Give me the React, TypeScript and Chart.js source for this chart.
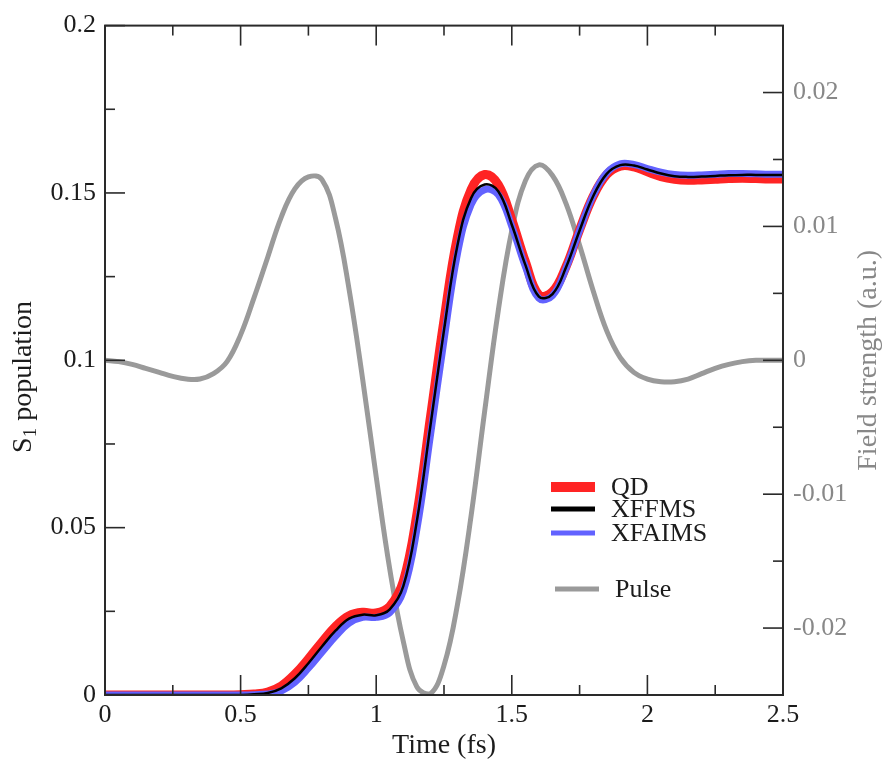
import React, { useEffect, useRef } from 'react';
import { Chart, registerables } from 'chart.js';

Chart.register(...registerables);

// ---- Data ----
const TIME = [0, 0.05, 0.1, 0.15, 0.2, 0.25, 0.3, 0.35, 0.4, 0.45, 0.5, 0.55, 0.6, 0.65, 0.7, 0.75, 0.8, 0.85, 0.9, 0.95, 1, 1.05, 1.1, 1.15, 1.2, 1.25, 1.3, 1.35, 1.4, 1.45, 1.5, 1.55, 1.6, 1.65, 1.7, 1.75, 1.8, 1.85, 1.9, 1.95, 2, 2.05, 2.1, 2.15, 2.2, 2.25, 2.3, 2.35, 2.4, 2.45, 2.5];

const QD = [0, 0, 0, 0, 0, 0, 0, 0, 0, 0, 0.0001, 0.0003, 0.0009, 0.0027, 0.0062, 0.0108, 0.0158, 0.0205, 0.0237, 0.0247, 0.0245, 0.0265, 0.034, 0.054, 0.083, 0.112, 0.137, 0.151, 0.1555, 0.1525, 0.142, 0.1295, 0.1195, 0.1205, 0.128, 0.139, 0.149, 0.1555, 0.158, 0.1578, 0.1563, 0.1549, 0.1541, 0.1538, 0.1539, 0.1541, 0.1543, 0.1544, 0.1543, 0.1542, 0.1542];

const XFFMS = [0, 0, 0, 0, 0, 0, 0, 0, 0, 0, 0, 0.0002, 0.0006, 0.002, 0.005, 0.0095, 0.0145, 0.0192, 0.0228, 0.024, 0.0238, 0.0256, 0.0325, 0.052, 0.0805, 0.109, 0.1345, 0.1485, 0.1525, 0.1505, 0.1405, 0.1285, 0.119, 0.1198, 0.1278, 0.1388, 0.149, 0.1557, 0.1583, 0.1582, 0.157, 0.1558, 0.155, 0.1548, 0.1549, 0.1551, 0.1553, 0.1554, 0.1554, 0.1554, 0.1554];

const XFAIMS = [0, 0, 0, 0, 0, 0, 0, 0, 0, 0, 0, 0.0001, 0.0003, 0.0012, 0.0038, 0.008, 0.0128, 0.0175, 0.0215, 0.0232, 0.0232, 0.0246, 0.031, 0.0495, 0.0775, 0.106, 0.132, 0.1465, 0.151, 0.1495, 0.14, 0.128, 0.1185, 0.1193, 0.1275, 0.1388, 0.1492, 0.156, 0.1587, 0.1585, 0.1573, 0.1562, 0.1555, 0.1553, 0.1554, 0.1556, 0.1558, 0.1558, 0.1557, 0.1556, 0.1556];

const PULSE = [0, -0.0001, -0.0003, -0.0006, -0.0009, -0.0012, -0.0014, -0.0014, -0.001, -0.0001, 0.0019, 0.0047, 0.0077, 0.0107, 0.0128, 0.0137, 0.0135, 0.0106, 0.0053, -0.0014, -0.0087, -0.0156, -0.021, -0.0244, -0.0249, -0.0228, -0.0182, -0.0116, -0.0038, 0.0037, 0.0097, 0.0134, 0.0146, 0.0138, 0.0117, 0.0086, 0.0052, 0.0022, 0.0002, -0.0009, -0.0014, -0.0016, -0.0016, -0.0014, -0.001, -0.0006, -0.0003, -0.0001, 0, 0, 0];

const X_TICKS = [0, 0.5, 1, 1.5, 2, 2.5];
const X_LABELS = ['0', '0.5', '1', '1.5', '2', '2.5'];
const X_MINOR = [0.25, 0.75, 1.25, 1.75, 2.25];
const Y_TICKS = [0, 0.05, 0.1, 0.15, 0.2];
const Y_LABELS = ['0', '0.05', '0.1', '0.15', '0.2'];
const Y_MINOR = [0.025, 0.075, 0.125, 0.175];
const Y2_TICKS = [-0.02, -0.01, 0, 0.01, 0.02];
const Y2_LABELS = ['-0.02', '-0.01', '0', '0.01', '0.02'];
const Y2_MINOR = [-0.015, -0.005, 0.005, 0.015];

const SERIES_NAMES = ['QD', 'XFFMS', 'XFAIMS', 'Pulse'];

const FONT = 'Liberation Serif, Times New Roman, serif';
const RED = '#ff2424';
const BLUE = '#6262ff';
const BLACK = '#000000';
const GRAY = '#9a9a9a';
const TEXT = '#1c1c1c';
const GRAY_TEXT = '#888888';

const toPoints = (vals: number[]) => TIME.map((t, i) => ({ x: t, y: vals[i] }));

const decorPlugin = {
  id: 'decor',
  afterDraw(chart: any) {
    const { ctx, chartArea: a, scales } = chart;
    const xs = scales.x, ys = scales.y, y2s = scales.y2;
    ctx.save();
    // frame
    ctx.strokeStyle = '#2a2a2a';
    ctx.lineWidth = 2;
    ctx.strokeRect(a.left, a.top, a.right - a.left, a.bottom - a.top);

    const seg = (x1: number, y1: number, x2: number, y2: number) => {
      ctx.beginPath();
      ctx.moveTo(x1, y1);
      ctx.lineTo(x2, y2);
      ctx.stroke();
    };
    ctx.lineWidth = 1.6;
    X_TICKS.forEach((v) => {
      const px = xs.getPixelForValue(v);
      seg(px, a.bottom, px, a.bottom - 20);
      seg(px, a.top, px, a.top + 20);
    });
    X_MINOR.forEach((v) => {
      const px = xs.getPixelForValue(v);
      seg(px, a.bottom, px, a.bottom - 10);
      seg(px, a.top, px, a.top + 10);
    });
    Y_TICKS.forEach((v) => {
      const py = ys.getPixelForValue(v);
      seg(a.left, py, a.left + 20, py);
    });
    Y_MINOR.forEach((v) => {
      const py = ys.getPixelForValue(v);
      seg(a.left, py, a.left + 10, py);
    });
    Y2_TICKS.forEach((v) => {
      const py = y2s.getPixelForValue(v);
      seg(a.right, py, a.right - 20, py);
    });
    Y2_MINOR.forEach((v) => {
      const py = y2s.getPixelForValue(v);
      seg(a.right, py, a.right - 10, py);
    });

    // axis titles
    const big = `28px ${FONT}`;
    const small = `19px ${FONT}`;
    const midX = (a.left + a.right) / 2;
    ctx.fillStyle = TEXT;
    ctx.font = big;
    ctx.textAlign = 'center';
    ctx.textBaseline = 'alphabetic';
    ctx.fillText('Time (fs)', midX, 753);

    // left title with subscript
    ctx.save();
    ctx.translate(31, 377);
    ctx.rotate(-Math.PI / 2);
    ctx.textAlign = 'left';
    ctx.font = big;
    const wS = ctx.measureText('S').width;
    const wRest = ctx.measureText(' population').width;
    ctx.font = small;
    const w1 = ctx.measureText('1').width;
    const total = wS + w1 + wRest;
    let cx = -total / 2;
    ctx.font = big;
    ctx.fillText('S', cx, 0);
    cx += wS;
    ctx.font = small;
    ctx.fillText('1', cx, 5);
    cx += w1;
    ctx.font = big;
    ctx.fillText(' population', cx, 0);
    ctx.restore();

    // right title
    ctx.save();
    ctx.translate(876, (a.top + a.bottom) / 2);
    ctx.rotate(-Math.PI / 2);
    ctx.fillStyle = GRAY_TEXT;
    ctx.font = big;
    ctx.textAlign = 'center';
    ctx.fillText('Field strength (a.u.)', 0, 0);
    ctx.restore();

    // legend
    const legendFont = `26px ${FONT}`;
    const items = [
      { name: SERIES_NAMES[0], color: RED, w: 10, y: 487, x1: 551, x2: 595, tx: 611 },
      { name: SERIES_NAMES[1], color: BLACK, w: 5, y: 509, x1: 551, x2: 595, tx: 611 },
      { name: SERIES_NAMES[2], color: BLUE, w: 5, y: 533, x1: 551, x2: 595, tx: 611 },
      { name: SERIES_NAMES[3], color: GRAY, w: 5, y: 589, x1: 555, x2: 599, tx: 615 },
    ];
    ctx.textAlign = 'left';
    ctx.textBaseline = 'middle';
    ctx.font = legendFont;
    items.forEach((it) => {
      ctx.strokeStyle = it.color;
      ctx.lineWidth = it.w;
      ctx.lineCap = 'butt';
      seg(it.x1, it.y, it.x2, it.y);
      ctx.fillStyle = TEXT;
      ctx.fillText(it.name, it.tx, it.y + 1);
    });
    ctx.restore();
  },
};

export default function App() {
  const ref = useRef<HTMLCanvasElement | null>(null);

  useEffect(() => {
    if (!ref.current) return;
    const common = { pointRadius: 0, tension: 0.4, cubicInterpolationMode: 'default' };
    const chart = new Chart(ref.current, {
      type: 'line',
      data: {
        datasets: [
          {
            ...common,
            label: SERIES_NAMES[3],
            data: toPoints(PULSE),
            yAxisID: 'y2',
            borderColor: GRAY,
            borderWidth: 5,
            order: 3,
          },
          {
            ...common,
            label: SERIES_NAMES[0],
            data: toPoints(QD),
            yAxisID: 'y',
            borderColor: RED,
            borderWidth: 9,
            order: 2,
          },
          {
            ...common,
            label: SERIES_NAMES[2],
            data: toPoints(XFAIMS),
            yAxisID: 'y',
            borderColor: BLUE,
            borderWidth: 7,
            order: 1,
          },
          {
            ...common,
            label: SERIES_NAMES[1],
            data: toPoints(XFFMS),
            yAxisID: 'y',
            borderColor: BLACK,
            borderWidth: 2.5,
            order: 0,
          },
        ],
      },
      options: {
        responsive: false,
        animation: false,
        devicePixelRatio: 1,
        layout: { padding: { top: 17, left: 0, right: 0, bottom: 0 } },
        plugins: {
          legend: { display: false },
          tooltip: { enabled: false },
        },
        scales: {
          x: {
            type: 'linear',
            position: 'bottom',
            min: 0,
            max: 2.5,
            grid: { display: false, drawTicks: false },
            border: { display: false },
            afterBuildTicks: (s: any) => {
              s.ticks = X_TICKS.map((v) => ({ value: v }));
            },
            afterFit: (s: any) => {
              s.height = 67;
            },
            ticks: {
              padding: 5,
              color: TEXT,
              maxRotation: 0,
              autoSkip: false,
              font: { family: FONT, size: 26 },
              callback: (v: any) => X_LABELS[X_TICKS.indexOf(Number(v))] ?? '',
            },
          },
          y: {
            type: 'linear',
            position: 'left',
            min: 0,
            max: 0.2,
            grid: { display: false, drawTicks: false },
            border: { display: false },
            afterBuildTicks: (s: any) => {
              s.ticks = Y_TICKS.map((v) => ({ value: v }));
            },
            afterFit: (s: any) => {
              s.width = 105;
            },
            ticks: {
              padding: 9,
              color: TEXT,
              autoSkip: false,
              font: { family: FONT, size: 26 },
              callback: (v: any) => Y_LABELS[Y_TICKS.indexOf(Number(v))] ?? '',
            },
          },
          y2: {
            type: 'linear',
            position: 'right',
            min: -0.025,
            max: 0.025,
            grid: { display: false, drawTicks: false },
            border: { display: false },
            afterBuildTicks: (s: any) => {
              s.ticks = Y2_TICKS.map((v) => ({ value: v }));
            },
            afterFit: (s: any) => {
              s.width = 100;
            },
            ticks: {
              padding: 10,
              color: GRAY_TEXT,
              autoSkip: false,
              font: { family: FONT, size: 26 },
              callback: (v: any) => Y2_LABELS[Y2_TICKS.indexOf(Number(v))] ?? '',
            },
          },
        },
      },
      plugins: [decorPlugin],
    } as any);
    return () => chart.destroy();
  }, []);

  return (
    <div style={{ position: 'fixed', left: 0, top: 0, width: 883, height: 762, background: '#fff' }}>
      <canvas ref={ref} width={883} height={762} style={{ display: 'block' }} />
    </div>
  );
}
